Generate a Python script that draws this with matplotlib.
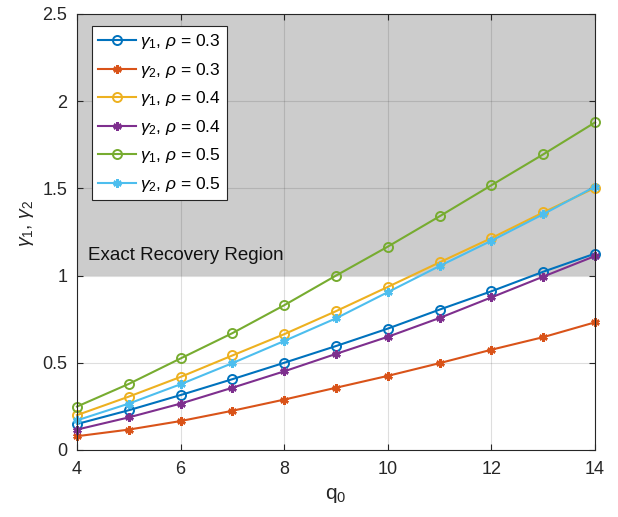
import numpy as np
import matplotlib
matplotlib.use('Agg')
import matplotlib.pyplot as plt

plt.rcParams['font.family'] = ['Liberation Sans', 'DejaVu Sans']
plt.rcParams['mathtext.fontset'] = 'custom'
plt.rcParams['mathtext.rm'] = 'Liberation Sans'
plt.rcParams['mathtext.it'] = 'Liberation Sans:italic'

# Data
q0 = [4, 5, 6, 7, 8, 9, 10, 11, 12, 13, 14]
g1_rho03 = [0.149, 0.228, 0.315, 0.406, 0.500, 0.596, 0.696, 0.805, 0.910, 1.022, 1.126]
g2_rho03 = [0.079, 0.117, 0.166, 0.225, 0.289, 0.357, 0.425, 0.498, 0.575, 0.647, 0.732]
g1_rho04 = [0.200, 0.306, 0.419, 0.542, 0.664, 0.796, 0.935, 1.076, 1.215, 1.362, 1.503]
g2_rho04 = [0.117, 0.187, 0.266, 0.357, 0.451, 0.551, 0.649, 0.757, 0.875, 0.994, 1.112]
g1_rho05 = [0.249, 0.379, 0.525, 0.670, 0.830, 1.000, 1.166, 1.340, 1.518, 1.695, 1.878]
g2_rho05 = [0.170, 0.266, 0.377, 0.498, 0.625, 0.755, 0.905, 1.055, 1.200, 1.352, 1.510]

series = [
    (g1_rho03, r'$\gamma_1$, $\rho$ = 0.3', '#0072BD', 'o'),
    (g2_rho03, r'$\gamma_2$, $\rho$ = 0.3', '#D95319', '*'),
    (g1_rho04, r'$\gamma_1$, $\rho$ = 0.4', '#EDB120', 'o'),
    (g2_rho04, r'$\gamma_2$, $\rho$ = 0.4', '#7E2F8E', '*'),
    (g1_rho05, r'$\gamma_1$, $\rho$ = 0.5', '#77AC30', 'o'),
    (g2_rho05, r'$\gamma_2$, $\rho$ = 0.5', '#4DBEEE', '*'),
]

fig = plt.figure(figsize=(6.18, 5.17), dpi=100)
ax = fig.add_axes([0.1246, 0.1296, 0.8382, 0.8434])

# shaded region above gamma = 1
ax.fill_between([4, 14], 1, 2.5, color='#cccccc', linewidth=0, zorder=1)
ax.text(4.21, 1.118, 'Exact Recovery Region', fontsize=13.5, va='center', ha='left',
        color='#111111', zorder=3)

for y, lab, col, mk in series:
    if mk == 'o':
        ax.plot(q0, y, color=col, lw=1.5, marker='o', markersize=6.5,
                markerfacecolor='none', markeredgewidth=1.4, label=lab,
                zorder=4, clip_on=False)
    else:
        ax.plot(q0, y, color=col, lw=1.5, marker=(6, 2, 0), markersize=6,
                markeredgewidth=1.8, label=lab, zorder=4, clip_on=False)

ax.set_xlim(4, 14)
ax.set_ylim(0, 2.5)
ax.set_xticks([4, 6, 8, 10, 12, 14])
ax.set_yticks([0, 0.5, 1, 1.5, 2, 2.5])
ax.set_yticklabels(['0', '0.5', '1', '1.5', '2', '2.5'])
ax.grid(True, color='#262626', alpha=0.15, linewidth=0.8)
ax.tick_params(direction='in', top=True, right=True, labelsize=13,
               colors='#262626', length=4, width=0.8)
ax.tick_params(axis='x', pad=8)
ax.tick_params(axis='y', pad=7)
for sp in ax.spines.values():
    sp.set_color('#262626')
    sp.set_linewidth(0.8)
    sp.set_zorder(5)

ax.set_xlabel(r'q$_0$', fontsize=15, color='#262626', labelpad=6)
ax.set_ylabel(r'$\gamma_1$, $\gamma_2$', fontsize=14, color='#262626')
ax.yaxis.set_label_coords(-0.08, 0.52)

leg = ax.legend(loc='upper left', bbox_to_anchor=(0.029, 0.972), borderaxespad=0,
                fontsize=12.5, fancybox=False, framealpha=1, edgecolor='#262626',
                handlelength=2.2, handletextpad=0.2, labelspacing=0.55,
                borderpad=0.35)
leg.get_frame().set_linewidth(0.8)
leg.set_zorder(6)

plt.savefig('out.png', dpi=100)
